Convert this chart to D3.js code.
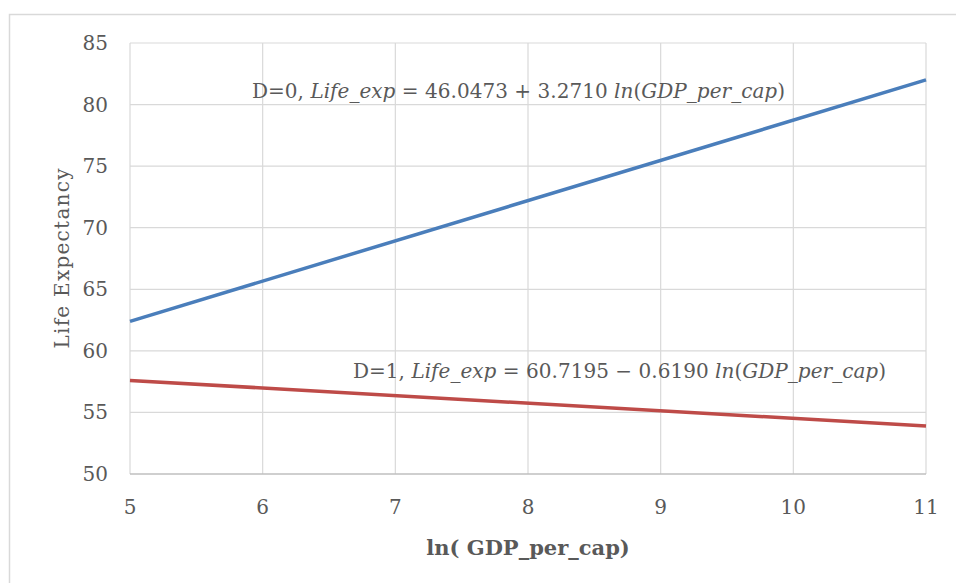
<!DOCTYPE html>
<html>
<head>
<meta charset="utf-8">
<script src="https://cdn.jsdelivr.net/npm/d3@7"></script>
<style>
  body { margin: 0; background: #fff; }
  text { font-family: "DejaVu Serif", "Liberation Serif", serif; fill: #595959; }
</style>
</head>
<body>
<div id="chart"></div>
<script>
// x values of the two fitted lines (endpoints) and their y values
var xEnds = [5, 11];
var lineD0 = [62.4, 82.0];
var lineD1 = [57.6, 53.9];
var xTicks = [5, 6, 7, 8, 9, 10, 11];
var yTicks = [50, 55, 60, 65, 70, 75, 80, 85];

var width = 956, height = 583;
var margin = {left: 130, right: 30, top: 43, bottom: 109};

var svg = d3.select("#chart").append("svg")
    .attr("width", width)
    .attr("height", height);

// chart border
svg.append("rect")
   .attr("x", 9.5).attr("y", 14.5)
   .attr("width", 960).attr("height", 600)
   .attr("fill", "none")
   .attr("stroke", "#d9d9d9")
   .attr("stroke-width", 1.5);

var x = d3.scaleLinear().domain([5, 11]).range([margin.left, width - margin.right]);
var y = d3.scaleLinear().domain([50, 85]).range([height - margin.bottom, margin.top]);

// gridlines
svg.append("g").selectAll("line")
   .data(yTicks.slice(1))
   .enter().append("line")
   .attr("x1", x(5)).attr("x2", x(11))
   .attr("y1", function(d) { return y(d); })
   .attr("y2", function(d) { return y(d); })
   .attr("stroke", "#d9d9d9").attr("stroke-width", 1.2);

svg.append("g").selectAll("line")
   .data(xTicks)
   .enter().append("line")
   .attr("x1", function(d) { return x(d); })
   .attr("x2", function(d) { return x(d); })
   .attr("y1", y(50)).attr("y2", y(85))
   .attr("stroke", "#d9d9d9").attr("stroke-width", 1.2);

// bottom axis line
svg.append("line")
   .attr("x1", x(5)).attr("x2", x(11))
   .attr("y1", y(50)).attr("y2", y(50))
   .attr("stroke", "#bfbfbf").attr("stroke-width", 1.5);

// tick labels
svg.append("g").selectAll("text")
   .data(yTicks)
   .enter().append("text")
   .attr("x", 108)
   .attr("y", function(d) { return y(d) + 7; })
   .attr("text-anchor", "end")
   .style("font-size", "20px")
   .text(function(d) { return d; });

svg.append("g").selectAll("text")
   .data(xTicks)
   .enter().append("text")
   .attr("x", function(d) { return x(d); })
   .attr("y", 514)
   .attr("text-anchor", "middle")
   .style("font-size", "20px")
   .text(function(d) { return d; });

// axis titles
svg.append("text")
   .attr("transform", "translate(69," + ((y(50) + y(85)) / 2) + ")rotate(-90)")
   .attr("text-anchor", "middle")
   .style("font-size", "20px")
   .attr("textLength", 180).attr("lengthAdjust", "spacing")
   .text("Life Expectancy");

svg.append("text")
   .attr("x", (x(5) + x(11)) / 2)
   .attr("y", 555)
   .attr("text-anchor", "middle")
   .style("font-size", "21px")
   .style("font-weight", "bold")
   .text("ln( GDP_per_cap)");

// lines
var line = d3.line()
    .x(function(d, i) { return x(xEnds[i]); })
    .y(function(d) { return y(d); });

svg.append("path").datum(lineD0)
   .attr("d", line)
   .attr("fill", "none").attr("stroke", "#4a7ebb").attr("stroke-width", 3.5);

svg.append("path").datum(lineD1)
   .attr("d", line)
   .attr("fill", "none").attr("stroke", "#be4b48").attr("stroke-width", 3.5);

// equation labels
function eqn(xp, yp, d, a, op, b, len) {
  var t = svg.append("text").attr("x", xp).attr("y", yp).style("font-size", "20px")
     .attr("textLength", len).attr("lengthAdjust", "spacing");
  t.append("tspan").text("D=" + d + ", ");
  t.append("tspan").style("font-style", "italic").text("Life_exp");
  t.append("tspan").text(" = " + a + " " + op + " " + b + " ");
  t.append("tspan").style("font-style", "italic").text("ln");
  t.append("tspan").text("(");
  t.append("tspan").style("font-style", "italic").text("GDP_per_cap");
  t.append("tspan").text(")");
}
eqn(252, 98, 0, "46.0473", "+", "3.2710", 533);
eqn(353, 378, 1, "60.7195", "\u2212", "0.6190", 533);
</script>
</body>
</html>
